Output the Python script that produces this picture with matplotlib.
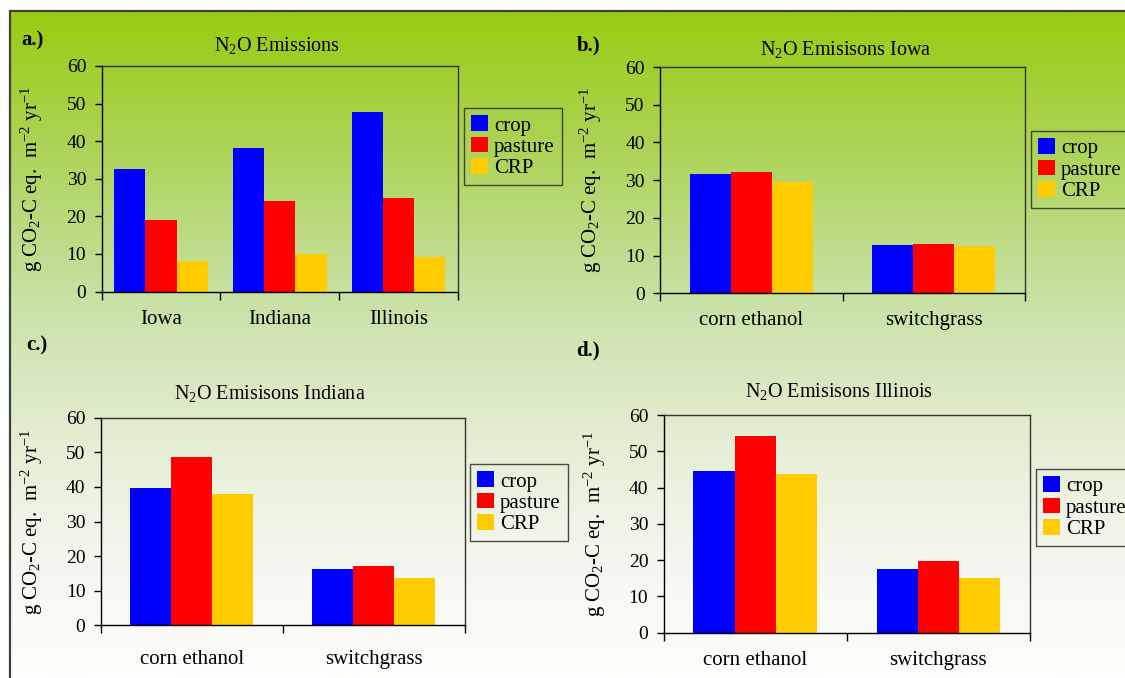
import numpy as np
import matplotlib
matplotlib.use("Agg")
import matplotlib.pyplot as plt
from matplotlib.colors import LinearSegmentedColormap
from matplotlib.patches import Rectangle

plt.rcParams["font.family"] = ["Liberation Serif", "DejaVu Serif"]
plt.rcParams["mathtext.fontset"] = "custom"
plt.rcParams["mathtext.rm"] = "Liberation Serif"
plt.rcParams["mathtext.it"] = "Liberation Serif:italic"

# data
series = ["crop", "pasture", "CRP"]
colors = ["#0000FF", "#FF0000", "#FFCC00"]

states = ["Iowa", "Indiana", "Illinois"]
all_crop = [32.5, 38.1, 47.7]
all_pasture = [19.0, 24.0, 24.8]
all_crp = [8.0, 10.0, 9.3]

fuels = ["corn ethanol", "switchgrass"]
iowa_crop = [31.6, 12.7]
iowa_pasture = [32.1, 13.0]
iowa_crp = [29.5, 12.5]
indiana_crop = [39.7, 16.2]
indiana_pasture = [48.7, 17.1]
indiana_crp = [38.0, 13.6]
illinois_crop = [44.6, 17.6]
illinois_pasture = [54.2, 19.8]
illinois_crp = [43.7, 15.1]

W, H = 1125, 678
fig = plt.figure(figsize=(W / 100, H / 100), dpi=100)


def fx(x):
    return x / W


def fy(y):
    return 1 - y / H


# gradient background inside the frame
bg = fig.add_axes([fx(9.5), 0, 1 - fx(9.5), fy(11)], zorder=-10)
cmap = LinearSegmentedColormap.from_list(
    "bg",
    [(0.0, (153/255, 204/255, 17/255)),
     (0.2, (172/255, 211/255, 85/255)),
     (0.43, (200/255, 225/255, 165/255)),
     (0.65, (228/255, 238/255, 212/255)),
     (0.82, (244/255, 247/255, 238/255)),
     (1.0, (253/255, 253/255, 251/255))])
grad = np.linspace(0, 1, 400).reshape(-1, 1)
bg.imshow(grad, aspect="auto", cmap=cmap, extent=[0, 1, 0, 1], origin="upper")
bg.set_axis_off()
fig.patches.append(Rectangle((fx(9.5), -0.01), 1.0, fy(11) + 0.01, transform=fig.transFigure,
                             fill=False, edgecolor="#404040", linewidth=1.6, zorder=-5))


def panel(rect, cats, values, width, title, title_xy, label, label_xy, leg_xy, xpad):
    l, t, r, b = rect
    ax = fig.add_axes([fx(l), fy(b), fx(r - l), (b - t) / H])
    ax.patch.set_alpha(0)
    x = np.arange(len(cats))
    for i, (vals, name, c) in enumerate(zip(values, series, colors)):
        ax.bar(x + (i - 1) * width, vals, width, color=c, label=name, linewidth=0)
    ax.set_xlim(-0.5, len(cats) - 0.5)
    ax.set_ylim(0, 60)
    ax.set_yticks(range(0, 61, 10))
    ax.set_xticks(x)
    ax.set_xticklabels(cats, fontsize=15)
    ax.set_xticks(np.arange(len(cats) + 1) - 0.5, minor=True)
    ax.tick_params(axis="x", which="major", length=0, pad=xpad)
    ax.tick_params(axis="x", which="minor", length=6, width=1, direction="out")
    ax.tick_params(axis="y", length=5, width=1, direction="out", labelsize=14, pad=6)
    for s in ax.spines.values():
        s.set_color("#333333")
        s.set_linewidth(1)
    ax.spines["left"].set_color("black")
    ax.spines["bottom"].set_color("black")
    ax.set_ylabel(r"g CO$_2$-C eq.  m$^{-2}$ yr$^{-1}$", fontsize=15)
    ax.yaxis.set_label_coords(-56 / (r - l), 0.5)
    fig.text(fx(title_xy[0]), fy(title_xy[1]), title, fontsize=14.5, ha="center", va="center")
    fig.text(fx(label_xy[0]), fy(label_xy[1]), label, fontsize=15, fontweight="bold",
             ha="left", va="center")
    leg = ax.legend(loc="upper left", bbox_to_anchor=(fx(leg_xy[0]), fy(leg_xy[1])),
                    bbox_transform=fig.transFigure, fontsize=15, frameon=True,
                    fancybox=False, borderaxespad=0, borderpad=0.35,
                    handlelength=0.8, handleheight=0.8, handletextpad=0.3,
                    labelspacing=0.05)
    leg.get_frame().set_facecolor("none")
    leg.get_frame().set_edgecolor("#222222")
    leg.get_frame().set_linewidth(1)
    return ax


panel((101.5, 66, 458, 291.5), states, [all_crop, all_pasture, all_crp], 0.263,
      r"N$_2$O Emissions", (277, 46), "a.)", (21, 40), (463.6, 108), 13)
panel((660, 67, 1025, 293.3), fuels, [iowa_crop, iowa_pasture, iowa_crp], 0.225,
      r"N$_2$O Emisisons Iowa", (846, 49), "b.)", (577, 45), (1031, 131), 13)
panel((100.7, 417.7, 465, 625.3), fuels, [indiana_crop, indiana_pasture, indiana_crp], 0.225,
      r"N$_2$O Emisisons Indiana", (270, 394), "c.)", (26, 345), (470, 464), 18)
panel((663.6, 415, 1030, 632.7), fuels, [illinois_crop, illinois_pasture, illinois_crp], 0.225,
      r"N$_2$O Emisisons Illinois", (839, 391), "d.)", (576, 350), (1036, 469), 13)

fig.savefig("out.png", dpi=100)
